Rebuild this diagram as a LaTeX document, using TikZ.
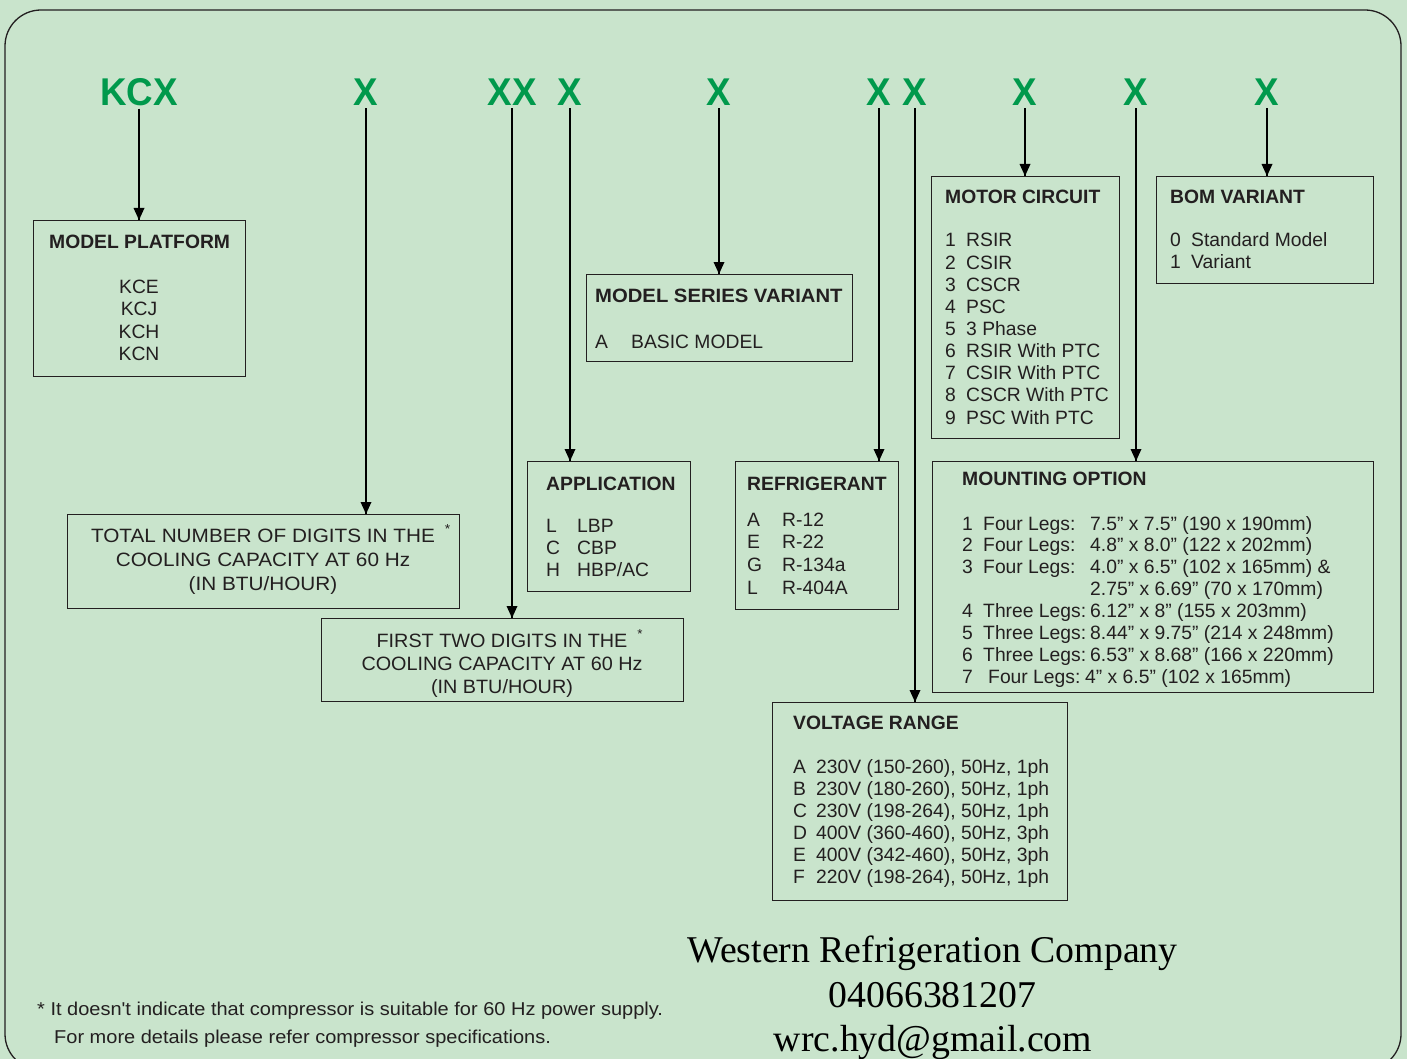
\documentclass[tikz,border=0pt]{standalone}
\usepackage{fontspec}
\setmainfont{Liberation Sans}
\newfontfamily\codefont[FakeStretch=0.95]{Liberation Sans}
\newfontfamily\totalfont[FakeStretch=1.075]{Liberation Sans}
\newfontfamily\firstfont[FakeStretch=1.026]{Liberation Sans}
\newfontfamily\seriesfont[FakeStretch=1.05]{Liberation Sans}
\newfontfamily\cofont{Liberation Serif}
\definecolor{bggreen}{RGB}{201,228,204}
\definecolor{codegreen}{RGB}{0,153,76}
\definecolor{ink}{RGB}{35,31,32}
\newcommand\codesize{\codefont\bfseries\fontsize{38.7}{40}\selectfont}
\newcommand\bodysize{\fontsize{19.3}{22}\selectfont}
\newcommand\notesize{\totalfont\fontsize{18.6}{22}\selectfont}
\newcommand\cosize{\cofont\fontsize{37.8}{42}\selectfont}
\newcommand\starmark{\rlap{\hspace{10pt}\raisebox{9pt}{\fontsize{13}{13}\selectfont *}}}

\begin{document}
\begin{tikzpicture}[x=1pt,y=1pt]
\tikzstyle{every node}+=[inner sep=0pt]
\tikzstyle{code}=[font=\codesize, text=codegreen, anchor=base]
\tikzstyle{box}=[draw=ink, line width=1.4pt, anchor=north west]
\tikzstyle{head}=[font=\bodysize\bfseries, text=ink, anchor=base west]
\tikzstyle{item}=[font=\bodysize, text=ink, anchor=base west]
\tikzstyle{centred}=[font=\bodysize, text=ink, anchor=base]
\tikzstyle{note}=[font=\notesize, text=ink, anchor=base west]
\tikzstyle{co}=[font=\cosize, text=black, anchor=base]
\useasboundingbox (0,0) rectangle (1407,-1059);
\fill [bggreen] (0,0) rectangle (1407,-1059);
\draw [ink, line width=1.3pt, rounded corners=36] (5,-10) rectangle (1401,-1070);
\draw (139,-106) node [code] (lkcx) {KCX};
\draw (366,-106) node [code] (ldig) {X};
\draw (512,-106) node [code] (lcap) {XX};
\draw (570,-106) node [code] (lapp) {X};
\draw (719,-106) node [code] (lser) {X};
\draw (879,-106) node [code] (lref) {X};
\draw (915,-106) node [code] (lvol) {X};
\draw (1025,-106) node [code] (lmot) {X};
\draw (1136,-106) node [code] (lmnt) {X};
\draw (1267,-106) node [code] (lbom) {X};
\draw (33,-220) node [box, minimum width=212, minimum height=156] (plat) {};
\draw (67,-514) node [box, minimum width=392, minimum height=94] (digits) {};
\draw (321,-618) node [box, minimum width=362, minimum height=83] (cap) {};
\draw (527,-461) node [box, minimum width=163, minimum height=130] (app) {};
\draw (586,-274) node [box, minimum width=266, minimum height=87] (series) {};
\draw (735,-461) node [box, minimum width=163, minimum height=148] (refr) {};
\draw (772,-702) node [box, minimum width=295, minimum height=198] (volt) {};
\draw (931,-176) node [box, minimum width=188, minimum height=262] (motor) {};
\draw (1156,-176) node [box, minimum width=217, minimum height=107] (bom) {};
\draw (932,-461) node [box, minimum width=441, minimum height=231] (mount) {};
\foreach \a/\b in {lkcx/plat, ldig/digits, lcap/cap, lapp/app, lser/series, lref/refr, lvol/volt, lmot/motor, lmnt/mount, lbom/bom} {
\draw [black, line width=1.2pt] ([yshift=-2]\a.south) -- (\a.south |- \b.north);
\fill [black] (\a.south |- \b.north) -- ++(-5.5,12) -- ++(11,0) -- cycle;
}
\draw (49,-249) node [head] (plat-h) {MODEL PLATFORM};
\foreach \v [count=\i from 0] in {KCE, KCJ, KCH, KCN}
\draw (139,{-293-22.6*\i}) node [centred] (plat-\i) {\v};
\draw (263,-542) node [centred, font=\totalfont\bodysize] (digits-1) {TOTAL NUMBER OF DIGITS IN THE\starmark};
\draw (263,-566) node [centred, font=\totalfont\bodysize] (digits-2) {COOLING CAPACITY AT 60 Hz};
\draw (263,-590) node [centred, font=\totalfont\bodysize] (digits-3) {(IN BTU/HOUR)};
\draw (502,-647) node [centred, font=\firstfont\bodysize] (cap-1) {FIRST TWO DIGITS IN THE\starmark};
\draw (502,-670) node [centred, font=\firstfont\bodysize] (cap-2) {COOLING CAPACITY AT 60 Hz};
\draw (502,-693) node [centred, font=\firstfont\bodysize] (cap-3) {(IN BTU/HOUR)};
\draw (546,-490) node [head] (app-h) {APPLICATION};
\foreach \k/\v [count=\i from 0] in {L/LBP, C/CBP, H/{HBP/AC}} {
\draw (546,{-532-22.4*\i}) node [item] (app-k\i) {\k};
\draw (577,{-532-22.4*\i}) node [item] (app-v\i) {\v};
}
\draw (595,-302) node [head, font=\seriesfont\bodysize\bfseries] (series-h) {MODEL SERIES VARIANT};
\draw (595,-348) node [item] (series-k) {A};
\draw (631,-348) node [item] (series-v) {BASIC MODEL};
\draw (747,-490.5) node [head] (refr-h) {REFRIGERANT};
\foreach \k/\v [count=\i from 0] in {A/R-12, E/R-22, G/R-134a, L/R-404A} {
\draw (747,{-526-22.7*\i}) node [item] (refr-k\i) {\k};
\draw (782,{-526-22.7*\i}) node [item] (refr-v\i) {\v};
}
\draw (793,-729) node [head] (volt-h) {VOLTAGE RANGE};
\foreach \k/\v [count=\i from 0] in {A/{230V (150-260), 50Hz, 1ph}, B/{230V (180-260), 50Hz, 1ph}, C/{230V (198-264), 50Hz, 1ph}, D/{400V (360-460), 50Hz, 3ph}, E/{400V (342-460), 50Hz, 3ph}, F/{220V (198-264), 50Hz, 1ph}} {
\draw (793,{-773-22*\i}) node [item] (volt-k\i) {\k};
\draw (816,{-773-22*\i}) node [item] (volt-v\i) {\v};
}
\draw (945,-204) node [head] (motor-h) {MOTOR CIRCUIT};
\foreach \v [count=\i from 1] in {RSIR, CSIR, CSCR, PSC, 3 Phase, RSIR With PTC, CSIR With PTC, CSCR With PTC, PSC With PTC} {
\draw (945,{-247-22.125*(\i-1)}) node [item] (motor-k\i) {\i};
\draw (966,{-247-22.125*(\i-1)}) node [item] (motor-v\i) {\v};
}
\draw (1170,-204) node [head] (bom-h) {BOM VARIANT};
\foreach \k/\v [count=\i from 0] in {0/Standard Model, 1/Variant} {
\draw (1170,{-247-22*\i}) node [item] (bom-k\i) {\k};
\draw (1191,{-247-22*\i}) node [item] (bom-v\i) {\v};
}
\draw (962,-485) node [head] (mount-h) {MOUNTING OPTION};
\foreach \k/\l/\v [count=\i from 0] in {1/Four Legs:/{7.5” x 7.5” (190 x 190mm)}, 2/Four Legs:/{4.8” x 8.0” (122 x 202mm)}, 3/Four Legs:/{4.0” x 6.5” (102 x 165mm) \&}, {}/{}/{2.75” x 6.69” (70 x 170mm)}, 4/Three Legs:/{6.12” x 8” (155 x 203mm)}, 5/Three Legs:/{8.44” x 9.75” (214 x 248mm)}, 6/Three Legs:/{6.53” x 8.68” (166 x 220mm)}} {
\draw (962,{-530-21.9*\i}) node [item] (mount-k\i) {\k};
\draw (983,{-530-21.9*\i}) node [item] (mount-l\i) {\l};
\draw (1090,{-530-21.9*\i}) node [item] (mount-v\i) {\v};
}
\draw (962,-683) node [item] (mount-k7) {7};
\draw (988,-683) node [item] (mount-l7) {Four Legs:};
\draw (1085,-683) node [item] (mount-v7) {4” x 6.5” (102 x 165mm)};
\draw (37,-1015) node [note] (note-1) {* It doesn't indicate that compressor is suitable for 60 Hz power supply.};
\draw (54,-1043) node [note] (note-2) {For more details please refer compressor specifications.};
\draw (932.5,-962) node [co] (co-name) {Western Refrigeration Company};
\draw (932.5,-1007) node [co] (co-phone) {04066381207};
\draw (933,-1051) node [co] (co-mail) {wrc.hyd@gmail.com};
\end{tikzpicture}
\end{document}
